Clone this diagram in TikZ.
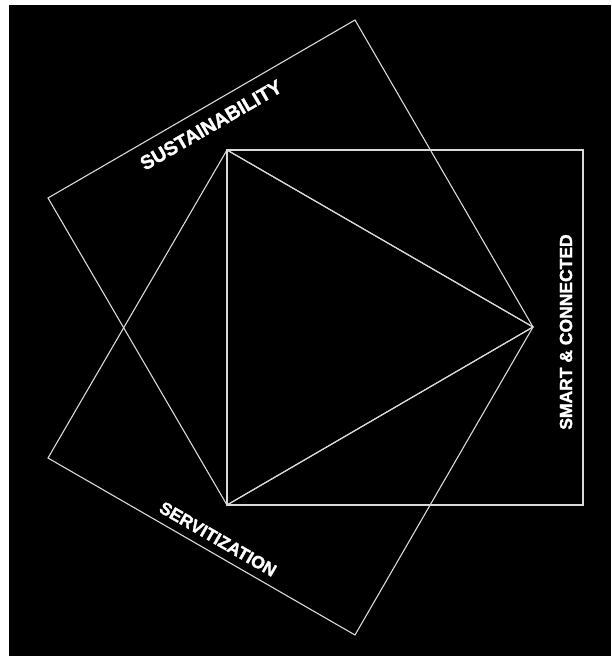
\documentclass[tikz,border=0pt]{standalone}
\usepackage{fontspec}
\setmainfont{Liberation Sans}
\newfontfamily\heavyfont[FakeBold=1.6]{Liberation Sans Bold}
\begin{document}
\begin{tikzpicture}[x=1pt,y=-1pt,
  edge/.style={draw=white!85!black,line width=1.1pt,line join=miter},
  lbl/.style={text=white,font=\heavyfont\fontsize{17.5}{18}\selectfont,inner sep=0pt}]
\useasboundingbox (0,0) rectangle (611,656);
\fill[black] (9,5) rectangle (611,656);
% triangle vertices
\coordinate (A) at (227,150);
\coordinate (B) at (533,327);
\coordinate (C) at (227,505);
% square on AC
\coordinate (S1) at (583,150);
\coordinate (S2) at (583,505);
% square on BC
\coordinate (T1) at (48,198);
\coordinate (T2) at (355,20);
% square on AB
\coordinate (U1) at (48,458);
\coordinate (U2) at (355,635);
\draw[edge] (A) -- (S1) -- (S2) -- (C) -- cycle;
\draw[edge] (C) -- (T1) -- (T2) -- (B) -- cycle;
\draw[edge] (A) -- (U1) -- (U2) -- (B) -- cycle;
\draw[edge] (A) -- (B) -- (C) -- cycle;
\node[lbl,rotate=30,font=\heavyfont\fontsize{19.5}{20}\selectfont] (sus) at (211,125) {SUSTAINABILITY};
\node[lbl,rotate=-30] (ser) at (218,539) {SERVITIZATION};
\node[lbl,rotate=90] (sma) at (566,332) {SMART \& CONNECTED};
\end{tikzpicture}
\end{document}
